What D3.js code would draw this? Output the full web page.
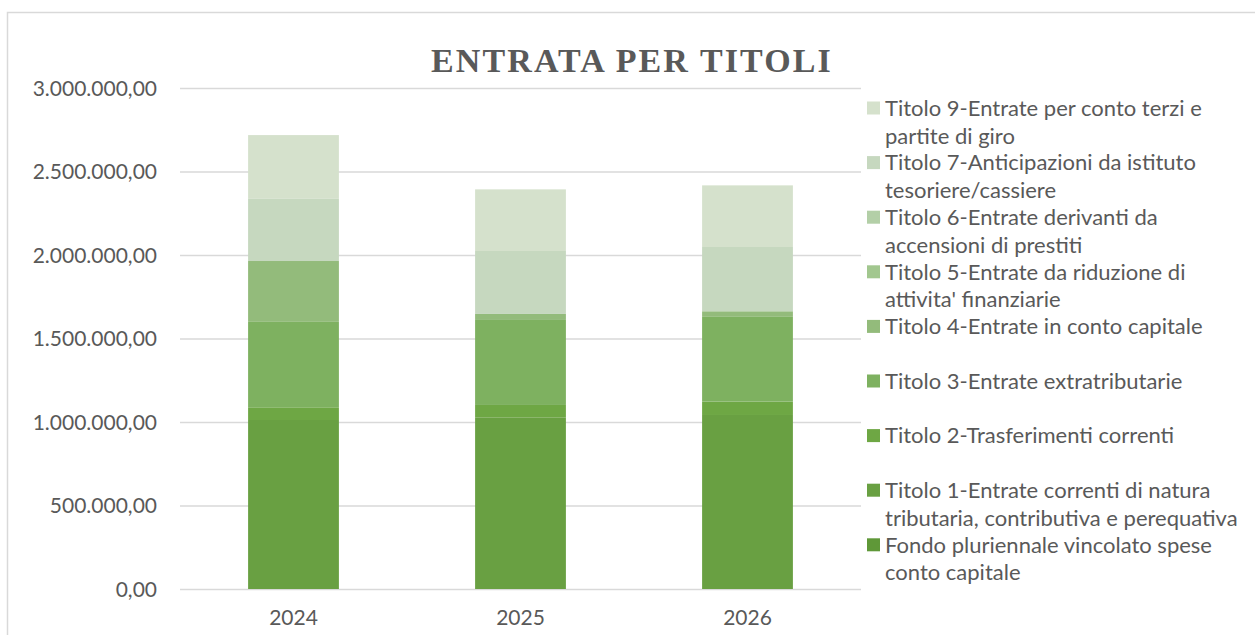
<!DOCTYPE html>
<html>
<head>
<meta charset="utf-8">
<script src="https://cdn.jsdelivr.net/npm/d3@7"></script>
<style>
  body { margin: 0; background: #fff; }
  text { fill: #595959; }
  .tick-label { font-family: Lato, "Open Sans", sans-serif; font-size: 21px; }
  .legend-text { font-family: Lato, "Open Sans", sans-serif; font-size: 22px; }
  .title { font-family: "Liberation Serif", serif; font-weight: bold; font-size: 34px; letter-spacing: 2.1px; }
</style>
</head>
<body>
<div class="canvas"></div>
<script>
const years = ["2024", "2025", "2026"];

// stack order, bottom to top
const seriesNames = [
  "Fondo pluriennale vincolato spese\nconto capitale",
  "Titolo 1-Entrate correnti di natura\ntributaria, contributiva e perequativa",
  "Titolo 2-Trasferimenti correnti",
  "Titolo 3-Entrate extratributarie",
  "Titolo 4-Entrate in conto capitale",
  "Titolo 5-Entrate da riduzione di\nattivita' finanziarie",
  "Titolo 6-Entrate derivanti da\naccensioni di prestiti",
  "Titolo 7-Anticipazioni da istituto\ntesoriere/cassiere",
  "Titolo 9-Entrate per conto terzi e\npartite di giro",
];

const fondo = [0, 0, 0];
const titolo1 = [1012000, 1028000, 1042000];
const titolo2 = [76000, 74000, 80000];
const titolo3 = [515000, 509000, 511000];
const titolo4 = [361000, 36000, 30000];
const titolo5 = [0, 0, 0];
const titolo6 = [0, 0, 0];
const titolo7 = [375000, 377000, 385000];
const titolo9 = [379000, 369000, 369000];

const yTicks = [0, 500000, 1000000, 1500000, 2000000, 2500000, 3000000];

const seriesColors = [
  "#5f9838", "#69a042", "#6ea744", "#7eb160", "#93bb7b",
  "#a2c78f", "#b3cfa7", "#c6d8bf", "#d5e1cc",
];

const WIDTH = 1255,
  HEIGHT = 635,
  PLOT = { left: 180, right: 861, top: 88, bottom: 589 },
  LEGEND = { x: 867, y: 108, step: 54.6, size: 13, lineHeight: 28 };

const seriesValues = [fondo, titolo1, titolo2, titolo3, titolo4, titolo5, titolo6, titolo7, titolo9];

const table = years.map((year, i) => {
  const row = { year };
  seriesValues.forEach((values, s) => (row[s] = values[i]));
  return row;
});

const itLocale = d3.formatLocale({
  decimal: ",",
  thousands: ".",
  grouping: [3],
  currency: ["", " €"],
});
const formatValue = itLocale.format(",.2f");

const svg = d3
  .select(".canvas")
  .append("svg")
  .attr("width", WIDTH)
  .attr("height", HEIGHT);

// chart area border
svg
  .append("rect")
  .attr("x", 7.5)
  .attr("y", 12.5)
  .attr("width", WIDTH)
  .attr("height", HEIGHT)
  .attr("fill", "#fff")
  .attr("stroke", "#d9d9d9")
  .attr("stroke-width", 1.5);

svg
  .append("text")
  .attr("class", "title")
  .attr("x", 632)
  .attr("y", 72)
  .attr("text-anchor", "middle")
  .text("ENTRATA PER TITOLI");

const x = d3
  .scaleBand()
  .domain(years)
  .range([PLOT.left, PLOT.right])
  .paddingInner(0.6)
  .paddingOuter(0.3);

const y = d3.scaleLinear().domain([0, 3000000]).range([PLOT.bottom, PLOT.top]);

// gridlines + y labels
const yAxis = d3
  .axisLeft(y)
  .tickValues(yTicks)
  .tickFormat(formatValue)
  .tickSize(-(PLOT.right - PLOT.left))
  .tickPadding(23);

const gy = svg
  .append("g")
  .attr("transform", `translate(${PLOT.left},0)`)
  .call(yAxis);
gy.select(".domain").remove();
gy.selectAll(".tick line").attr("stroke", "#d9d9d9").attr("stroke-width", 1.5);
gy.selectAll(".tick text")
  .attr("class", "tick-label")
  .attr("fill", "#595959")
  .attr("dy", "0.35em");

// stacked bars
const stack = d3.stack().keys(d3.range(seriesNames.length));
const layers = stack(table);

svg
  .append("g")
  .selectAll("g")
  .data(layers)
  .join("g")
  .attr("fill", (d, i) => seriesColors[i])
  .selectAll("rect")
  .data((d) => d)
  .join("rect")
  .attr("x", (d) => x(d.data.year))
  .attr("width", x.bandwidth())
  .attr("y", (d) => y(d[1]))
  .attr("height", (d) => y(d[0]) - y(d[1]));

// x labels
const xAxis = d3.axisBottom(x).tickSize(0).tickPadding(21);
const gx = svg
  .append("g")
  .attr("transform", `translate(0,${PLOT.bottom})`)
  .call(xAxis);
gx.select(".domain").remove();
gx.selectAll(".tick text").attr("class", "tick-label").attr("fill", "#595959");

// legend, top entry is the last series
const legendOrder = d3.range(seriesNames.length).reverse();
const legendItem = svg
  .append("g")
  .selectAll("g")
  .data(legendOrder)
  .join("g")
  .attr("transform", (d, i) => `translate(${LEGEND.x},${LEGEND.y + i * LEGEND.step})`);

legendItem
  .append("rect")
  .attr("y", -LEGEND.size / 2)
  .attr("width", LEGEND.size)
  .attr("height", LEGEND.size)
  .attr("fill", (d) => seriesColors[d]);

legendItem
  .append("text")
  .attr("class", "legend-text")
  .attr("x", 18)
  .attr("y", 0)
  .selectAll("tspan")
  .data((d) => seriesNames[d].split("\n"))
  .join("tspan")
  .attr("x", 18)
  .attr("y", (d, i) => i * LEGEND.lineHeight)
  .attr("dy", "0.35em")
  .text((d) => d);
</script>
</body>
</html>
